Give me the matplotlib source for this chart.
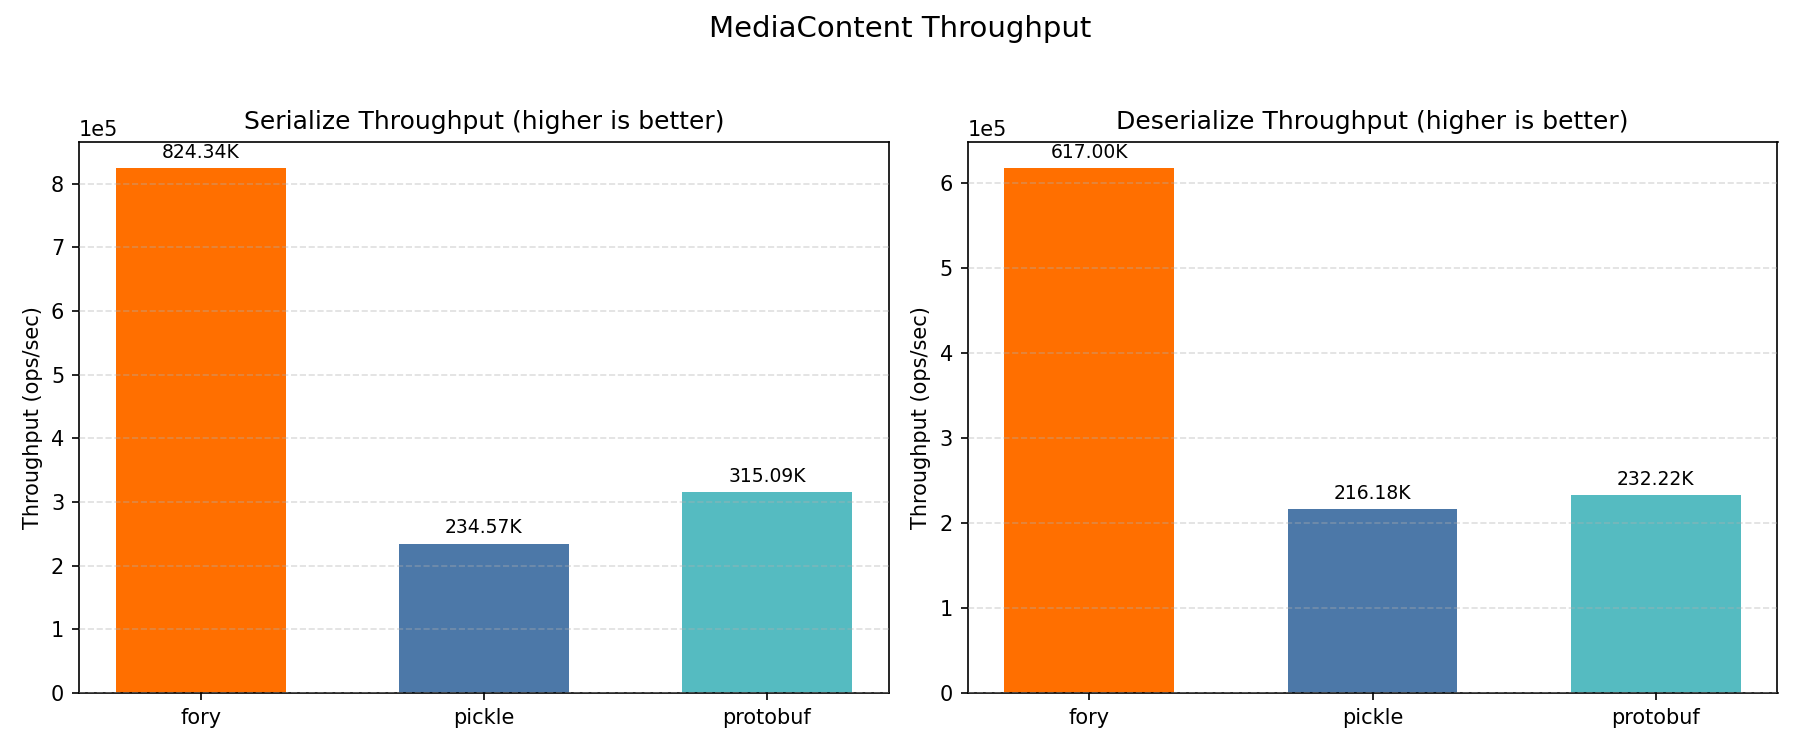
import matplotlib
matplotlib.use("Agg")
import matplotlib.pyplot as plt

libs = ["fory", "pickle", "protobuf"]
serialize_tps = [824340, 234570, 315090]
deserialize_tps = [617000, 216180, 232220]
colors = ["#FF6F00", "#4C78A8", "#55BBC1"]

fig, axes = plt.subplots(1, 2, figsize=(12, 5), dpi=150)
fig.suptitle("MediaContent Throughput", fontsize=14)

for ax, vals, title in zip(axes, [serialize_tps, deserialize_tps],
                           ["Serialize Throughput (higher is better)",
                            "Deserialize Throughput (higher is better)"]):
    bars = ax.bar(libs, vals, color=colors, width=0.6)
    ax.set_title(title)
    ax.set_ylabel("Throughput (ops/sec)")
    ax.grid(axis="y", linestyle="--", alpha=0.4)
    ax.set_axisbelow(False)
    ax.ticklabel_format(axis="y", style="sci", scilimits=(0, 0))
    for b, v in zip(bars, vals):
        ax.annotate(f"{v/1000:.2f}K", (b.get_x() + b.get_width() / 2, b.get_height()),
                    xytext=(0, 3), textcoords="offset points",
                    ha="center", va="bottom", fontsize=9)

fig.tight_layout(rect=[0, 0, 1, 0.95])
fig.savefig("out.png")
